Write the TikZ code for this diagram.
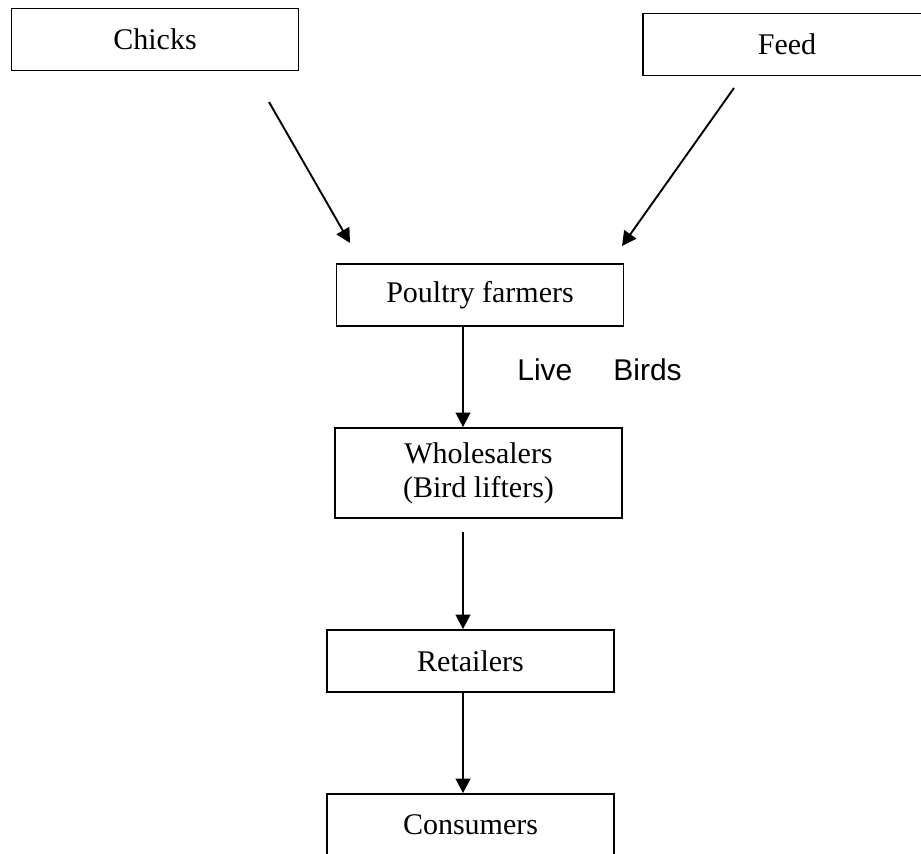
\documentclass[tikz,border=0pt]{standalone}
\usepackage{fontspec}
\setmainfont{Liberation Serif}
\setsansfont{Liberation Sans}
\usepackage{xcolor}
\usepackage{tikz}
\usetikzlibrary{arrows.meta}

\begin{document}
\begin{tikzpicture}[x=0.5pt,y=-0.5pt,
	box/.style={draw, line width=0.9pt, inner sep=0pt, minimum width=143.5pt, minimum height=31pt, align=center, font=\fontsize{15}{17}\selectfont},
	arr/.style={line width=0.95pt, -{Triangle[length=7.2pt,width=7.3pt]}}]
		\useasboundingbox (0,0) rectangle (921,853);

		\node[box] (chicks) at (155,39.5) {Chicks};
		\node[box, minimum width=144pt] (feed) at (787,44.5) {Feed};
		\node[box] (farmers) at (480,295) {Poultry farmers};
		\node[box, minimum height=45pt] (wholesalers) at (478.5,473) {Wholesalers\\(Bird lifters)};
		\node[box] (retailers) at (470.5,661) {Retailers};
		\node[box] (consumers) at (470.5,825) {Consumers};

		\node[anchor=base west, inner sep=0pt, font=\sffamily\fontsize{15}{17}\selectfont] (live) at (517,380) {Live\hspace{20.5pt}Birds};

		\coordinate (c1) at (269,102);
		\coordinate (c2) at (350,243);
		\coordinate (f1) at (734,88);
		\coordinate (f2) at (622,246);
		\coordinate (spine) at (463,0);

		\draw [arr] (c1) -- (c2);
		\draw [arr] (f1) -- (f2);
		\draw [arr] (farmers.south -| spine) -- (wholesalers.north -| spine);
		\draw [arr, shorten <=6.5pt] (wholesalers.south -| spine) -- (retailers.north -| spine);
		\draw [arr] (retailers.south -| spine) -- (consumers.north -| spine);

		\end{tikzpicture}
\end{document}
